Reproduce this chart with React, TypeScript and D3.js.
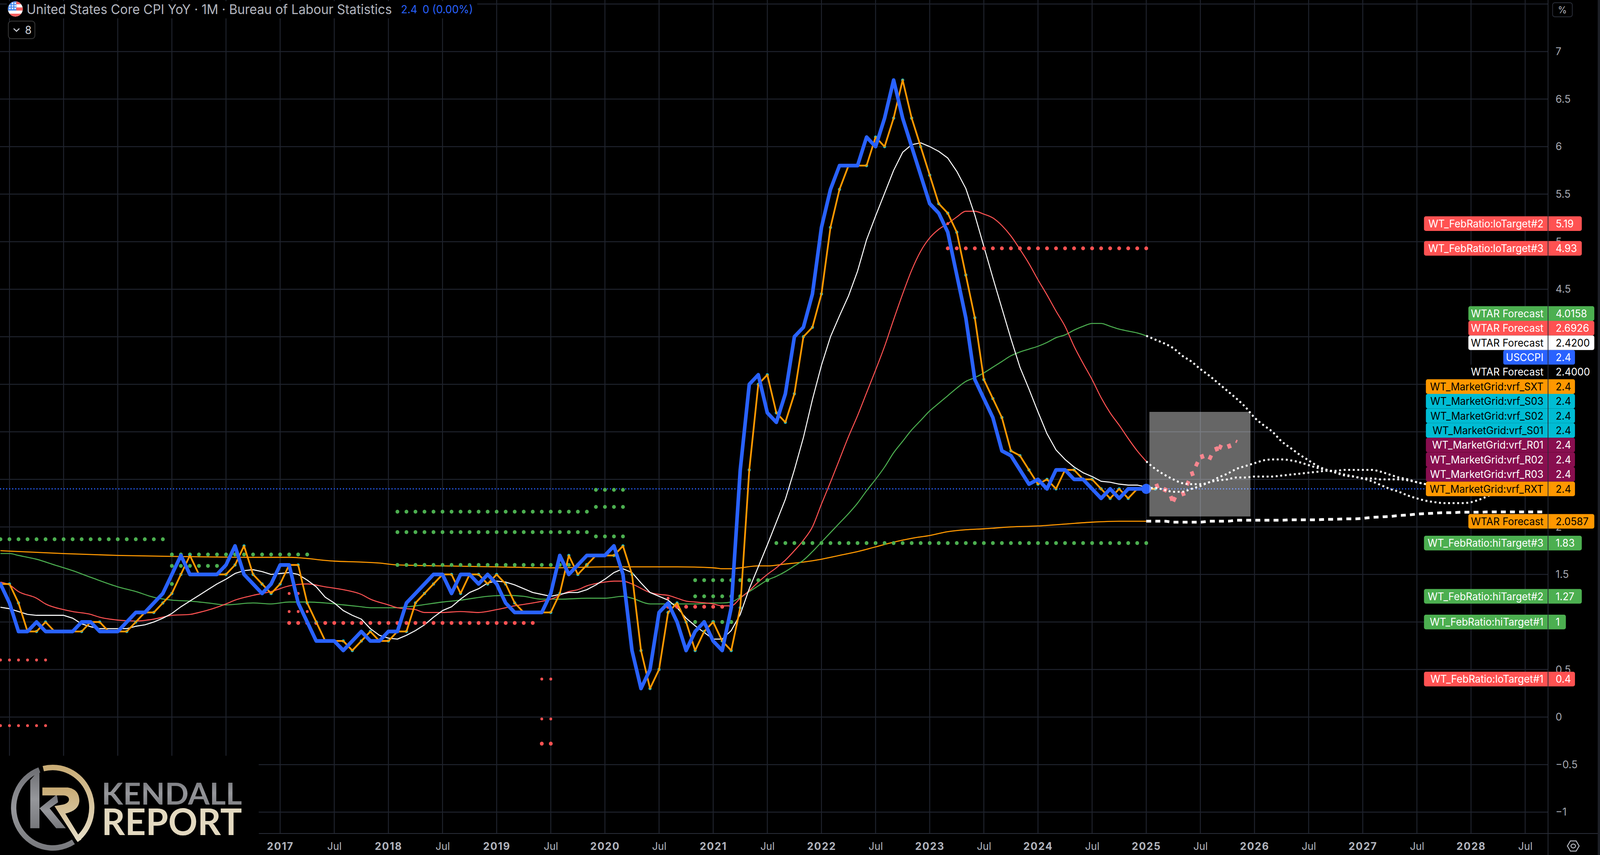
import React, { useEffect, useRef } from 'react';
import * as d3 from 'd3';

// months are counted from Jan 2017 (0) so the axis stays evenly spaced per bar
const cpiStartMonth = -32;
const coreCpi = [
  1.4, 1.4, 1.2, 0.9, 0.9, 1.0, 0.9, 0.9, 0.9, 0.9, 1.0, 1.0, 0.9, 0.9, 0.9, 1.0, 1.1, 1.1, 1.2, 1.3, 1.5, 1.7, 1.5, 1.5,
  1.5, 1.5, 1.6, 1.8, 1.5, 1.4, 1.3, 1.4, 1.6, 1.6, 1.2, 1.0, 0.8, 0.8, 0.8, 0.7, 0.8, 0.9, 0.8, 0.8, 0.9, 0.9, 1.2, 1.3,
  1.4, 1.5, 1.5, 1.3, 1.5, 1.5, 1.4, 1.5, 1.4, 1.2, 1.1, 1.1, 1.1, 1.1, 1.3, 1.7, 1.5, 1.6, 1.7, 1.7, 1.7, 1.8, 1.5, 0.7,
  0.3, 0.5, 1.1, 1.2, 1.0, 0.7, 0.9, 1.0, 0.8, 0.7, 1.15, 2.6, 3.5, 3.6, 3.2, 3.1, 3.4, 4.0, 4.1, 4.45, 5.15, 5.55, 5.8, 5.8,
  5.8, 6.1, 6.0, 6.3, 6.7, 6.3, 6.0, 5.7, 5.4, 5.3, 5.1, 4.65, 4.2, 3.55, 3.35, 3.15, 2.8, 2.75, 2.6, 2.45, 2.5, 2.4, 2.6, 2.6,
  2.5, 2.5, 2.4, 2.3, 2.4, 2.3, 2.4, 2.4, 2.4,
];

const whiteStartMonth = -31;
const whiteAvg = [
  1.155, 1.14, 1.11, 1.08, 1.07, 1.07, 1.07, 1.07, 1.04, 0.98, 0.95, 0.93, 0.93, 0.93, 0.93, 0.955, 0.97, 1.0, 1.04, 1.09,
  1.16, 1.22, 1.28, 1.34, 1.4, 1.45, 1.51, 1.54, 1.55, 1.53, 1.5, 1.51, 1.52, 1.5, 1.44, 1.37, 1.26, 1.2, 1.12, 1.07, 1.03,
  0.93, 0.86, 0.83, 0.82, 0.86, 0.91, 0.97, 1.05, 1.12, 1.16, 1.24, 1.31, 1.35, 1.41, 1.43, 1.42, 1.39, 1.35, 1.31, 1.29,
  1.27, 1.29, 1.31, 1.31, 1.34, 1.39, 1.45, 1.52, 1.56, 1.52, 1.41, 1.31, 1.27, 1.23, 1.15, 1.04, 0.96, 0.89, 0.82, 0.82,
  0.91, 1.08, 1.35, 1.58, 1.81, 2.05, 2.29, 2.6, 2.94, 3.34, 3.7, 4.0, 4.22, 4.43, 4.69, 5.02, 5.27, 5.51, 5.75, 5.94, 6.02,
  6.04, 6.0, 5.95, 5.88, 5.74, 5.56, 5.28, 4.95, 4.62, 4.3, 3.98, 3.68, 3.45, 3.21, 2.98, 2.81, 2.71, 2.63, 2.57, 2.53, 2.48,
  2.47, 2.45, 2.44, 2.44, 2.42,
];

const redMonths = [
  -31, -30, -29, -27, -26, -24, -23, -21, -20, -18, -16, -14, -12, -10, -9, -6, -5, -3, -1, 1, 3, 5, 7, 9, 10, 12, 13, 15, 16,
  18, 20, 22, 24, 26, 28, 30, 32, 33, 34, 36, 37, 38, 39, 41, 42, 43, 44, 45, 46, 48, 49, 50, 51, 52, 53, 54, 55, 56, 57, 58,
  59, 60, 61, 62, 63, 64, 65, 66, 67, 68, 69, 70, 71, 72, 73, 74, 75, 76, 77, 78, 79, 80, 81, 82, 83, 84, 85, 86, 87, 88, 89,
  90, 91, 92, 93, 94, 95, 96,
];
const redAvg = [
  1.42, 1.39, 1.32, 1.25, 1.19, 1.13, 1.11, 1.08, 1.05, 1.02, 1.01, 1.03, 1.07, 1.08, 1.1, 1.19, 1.23, 1.28, 1.32, 1.38, 1.4,
  1.37, 1.34, 1.29, 1.24, 1.18, 1.15, 1.13, 1.1, 1.1, 1.11, 1.1, 1.13, 1.17, 1.2, 1.24, 1.32, 1.34, 1.38, 1.42, 1.43, 1.43,
  1.4, 1.31, 1.29, 1.28, 1.25, 1.22, 1.21, 1.19, 1.17, 1.17, 1.25, 1.33, 1.42, 1.5, 1.57, 1.65, 1.75, 1.86, 2.0, 2.24, 2.47,
  2.71, 2.95, 3.17, 3.41, 3.65, 3.9, 4.18, 4.45, 4.7, 4.9, 5.04, 5.13, 5.19, 5.26, 5.32, 5.32, 5.29, 5.25, 5.17, 5.06, 4.92,
  4.77, 4.6, 4.44, 4.27, 4.11, 3.9, 3.72, 3.55, 3.36, 3.2, 3.07, 2.93, 2.8, 2.69,
];

const greenMonths = [
  -31, -30, -29, -27, -25, -23, -21, -18, -16, -14, -12, -10, -8, -6, -3, -1, 1, 3, 5, 7, 9, 10, 13, 15, 18, 20, 23, 25, 27, 29,
  31, 34, 36, 38, 39, 41, 43, 46, 48, 49, 50, 51, 52, 53, 54, 55, 56, 57, 58, 59, 60, 61, 62, 63, 64, 65, 66, 67, 68, 69, 70,
  71, 72, 73, 74, 75, 76, 77, 78, 79, 80, 81, 82, 83, 84, 85, 86, 87, 88, 89, 90, 91, 92, 93, 94, 95, 96,
];
const greenAvg = [
  1.72, 1.72, 1.7, 1.66, 1.6, 1.54, 1.47, 1.37, 1.32, 1.26, 1.23, 1.22, 1.2, 1.18, 1.2, 1.19, 1.21, 1.21, 1.2, 1.18, 1.16, 1.15,
  1.15, 1.17, 1.21, 1.23, 1.27, 1.28, 1.27, 1.24, 1.24, 1.25, 1.25, 1.27, 1.25, 1.19, 1.19, 1.19, 1.2, 1.2, 1.21, 1.26, 1.32,
  1.38, 1.44, 1.48, 1.53, 1.59, 1.65, 1.74, 1.84, 1.94, 2.04, 2.14, 2.25, 2.38, 2.5, 2.63, 2.78, 2.9, 3.02, 3.12, 3.22, 3.3,
  3.38, 3.46, 3.53, 3.57, 3.62, 3.68, 3.74, 3.8, 3.84, 3.87, 3.9, 3.94, 3.99, 4.02, 4.07, 4.11, 4.14, 4.14, 4.11, 4.08, 4.06,
  4.04, 4.01,
];

const orangeMonths = [
  -31, -24, -18, -12, -3, 1, 6, 9, 11, 13, 18, 24, 30, 36, 38, 41, 44, 48, 49, 50, 51, 53, 54, 56, 58, 60, 62, 64, 66, 68, 70, 72,
  74, 76, 78, 81, 84, 87, 90, 93, 96,
];
const orangeAvg = [
  1.75, 1.72, 1.7, 1.69, 1.68, 1.68, 1.64, 1.63, 1.62, 1.6, 1.59, 1.58, 1.57, 1.58, 1.58, 1.58, 1.58, 1.57, 1.56, 1.56, 1.57,
  1.59, 1.59, 1.61, 1.63, 1.66, 1.7, 1.74, 1.79, 1.84, 1.88, 1.91, 1.95, 1.97, 1.98, 2.0, 2.01, 2.03, 2.05, 2.06, 2.06,
];

// forecasts, monthly from the last print
const forecastStart = 96;
const forecastGreen = [
  4.01, 3.97, 3.93, 3.88, 3.8, 3.74, 3.66, 3.59, 3.51, 3.43, 3.35, 3.26, 3.15, 3.07, 3.0, 2.9, 2.83, 2.76, 2.7, 2.64, 2.6,
  2.575, 2.55, 2.53, 2.51, 2.48, 2.44, 2.4, 2.37, 2.33, 2.3, 2.275, 2.26, 2.25, 2.25, 2.25, 2.26, 2.29, 2.33, 2.38, 2.42,
];
const forecastRed = [
  2.69, 2.61, 2.55, 2.5, 2.46, 2.45, 2.45, 2.47, 2.52, 2.56, 2.61, 2.64, 2.67, 2.7, 2.71, 2.71, 2.7, 2.68, 2.65, 2.62, 2.6,
  2.57, 2.54, 2.53, 2.51, 2.51, 2.5, 2.5, 2.5, 2.49, 2.47, 2.45, 2.44, 2.43, 2.42,
];
const forecastWhite = [
  2.41, 2.41, 2.39, 2.37, 2.37, 2.4, 2.43, 2.47, 2.49, 2.5, 2.52, 2.52, 2.53, 2.53, 2.53, 2.54, 2.55, 2.56, 2.57, 2.58, 2.59,
  2.59, 2.6, 2.6, 2.6, 2.6, 2.58, 2.55, 2.52, 2.5, 2.47, 2.45, 2.44, 2.43, 2.42,
];
const forecastOrange = [
  2.06, 2.06, 2.06, 2.05, 2.05, 2.05, 2.05, 2.06, 2.06, 2.06, 2.07, 2.07, 2.07, 2.07, 2.07, 2.07, 2.075, 2.075, 2.075, 2.075,
  2.08, 2.08, 2.085, 2.085, 2.09, 2.1, 2.105, 2.11, 2.12, 2.125, 2.135, 2.14, 2.145, 2.15, 2.15, 2.155, 2.155, 2.155, 2.158,
  2.158, 2.158, 2.158, 2.158, 2.158, 2.158,
];

const pinkMonths = [97.2, 98.1, 98.8, 99.1, 100.1, 100.6, 101.1, 101.6, 102.2, 103.1, 103.8, 104.2, 105.2, 106];
const pinkValues = [2.43, 2.39, 2.3, 2.29, 2.35, 2.46, 2.56, 2.66, 2.74, 2.73, 2.82, 2.84, 2.85, 2.9];

// [level, first month, last month]
const greenTargets = [
  [1.87, -31, -13], [1.71, -12, 3], [1.59, -12, -7], [1.4, -12, -12], [2.16, 13, 34], [1.945, 13, 34], [1.6, 13, 34],
  [2.39, 35, 38], [2.21, 35, 38], [1.9, 35, 38], [1.44, 46, 54], [1.27, 46, 51], [1.0, 46, 50], [1.83, 55, 96],
];
const redTargets = [[0.99, 1, 28], [1.16, 43, 50], [-0.28, 29, 30], [4.93, 74, 96]];
const smallRedTargets = [
  [0.6, -31, -26], [-0.09, -31, -26], [1.3, 1, 2], [1.11, 1, 3], [0.4, 29, 30], [-0.02, 29, 30], [1.25, 43, 43], [5.19, 74, 74],
];

const priceTicks = [-1, -0.5, 0, 0.5, 1, 1.5, 2, 2.5, 3, 3.5, 4, 4.5, 5, 5.5, 6, 6.5, 7, 7.5];
// the other tick labels sit fully behind the price tags in the original
const priceLabels = [-1, -0.5, 0, 0.5, 1.5, 2, 4.5, 5, 5.5, 6, 6.5, 7];
const gridMonths = d3.range(-30, 139, 6);
const labelMonths = d3.range(0, 139, 6);

const stackNames = [
  'WTAR Forecast', 'WTAR Forecast', 'WTAR Forecast', 'USCCPI', 'WTAR Forecast', 'WT_MarketGrid:vrf_SXT', 'WT_MarketGrid:vrf_S03',
  'WT_MarketGrid:vrf_S02', 'WT_MarketGrid:vrf_S01', 'WT_MarketGrid:vrf_R01', 'WT_MarketGrid:vrf_R02', 'WT_MarketGrid:vrf_R03',
  'WT_MarketGrid:vrf_RXT',
];
const stackValues = ['4.0158', '2.6926', '2.4200', '2.4', '2.4000', '2.4', '2.4', '2.4', '2.4', '2.4', '2.4', '2.4', '2.4'];
const stackFills = [
  '#4caf50', '#ff5252', '#ffffff', '#2962ff', '#000000', '#ff9800', '#00bcd4', '#00bcd4', '#00bcd4', '#880e4f', '#880e4f', '#880e4f', '#ff9800',
];
const stackTexts = ['#fff', '#fff', '#000', '#fff', '#fff', '#000', '#000', '#000', '#000', '#fff', '#fff', '#fff', '#000'];

const levelNames = [
  'WT_FebRatio:loTarget#2', 'WT_FebRatio:loTarget#3', 'WTAR Forecast', 'WT_FebRatio:hiTarget#3', 'WT_FebRatio:hiTarget#2',
  'WT_FebRatio:hiTarget#1', 'WT_FebRatio:loTarget#1',
];
const levelValues = ['5.19', '4.93', '2.0587', '1.83', '1.27', '1', '0.4'];
const levelFills = ['#ff5252', '#ff5252', '#ff9800', '#4caf50', '#4caf50', '#4caf50', '#ff5252'];
const levelTexts = ['#fff', '#fff', '#000', '#fff', '#fff', '#fff', '#fff'];

const WIDTH = 4218;
const HEIGHT = 2188;
const AXIS_X = 4081;
const AXIS_Y = 2133;
const GRID = '#1f232d';
const FONT = 'Inter, sans-serif';

const x = d3.scaleLinear().domain([0, 132]).range([738.5, 3878]);
const y = d3.scaleLinear().domain([0, 7]).range([1835, 131.9]);

const seq = (start: number, values: number[]) => values.map((v, i) => [start + i, v] as [number, number]);
const zip = (months: number[], values: number[]) => months.map((m, i) => [m, values[i]] as [number, number]);

const straight = d3.line<[number, number]>().x((d) => x(d[0])).y((d) => y(d[1]));
const smooth = d3.line<[number, number]>().x((d) => x(d[0])).y((d) => y(d[1])).curve(d3.curveMonotoneX);

const cpiPoints = seq(cpiStartMonth, coreCpi);
// the orange plot is the same print shifted one bar to the right
const laggedPoints = seq(cpiStartMonth + 1, coreCpi);

const labelLeft = (name: string) => {
  if (name === 'USCCPI') return 3963;
  if (name.startsWith('WTAR')) return 3871;
  if (name.startsWith('WT_Market')) return 3759;
  return 3754;
};
const labelRight = (value: string) => {
  if (value.length >= 6) return 4203;
  if (value.length === 4) return 4170;
  if (value.length === 3) return 4152;
  return 4128;
};

const PriceLabel = ({ name, value, fill, text, cy }: { name: string; value: string; fill: string; text: string; cy: number }) => (
  <g>
    <rect x={labelLeft(name)} y={cy - 18.7} width={labelRight(value) - labelLeft(name)} height={37.4} rx={5} fill={fill} />
    <text x={4069} y={cy} dy="0.36em" textAnchor="end" fontSize={26.4} fontFamily={FONT} fill={text}>{name}</text>
    <text x={4101} y={cy} dy="0.36em" fontSize={26.4} fontFamily={FONT} fill={text}>{value}</text>
  </g>
);

const TargetDots = ({ rows, color, r }: { rows: number[][]; color: string; r: number }) => (
  <g fill={color}>
    {rows.map(([level, from, to]) =>
      d3.range(from, to + 1).map((m) => <circle key={`${level}-${m}`} cx={x(m)} cy={y(level)} r={r} />)
    )}
  </g>
);

const ringGray = d3.arc()({ innerRadius: 96, outerRadius: 110, startAngle: (-212 * Math.PI) / 180, endAngle: (-20 * Math.PI) / 180 });
const ringGold = d3.arc()({ innerRadius: 96, outerRadius: 110, startAngle: (-14 * Math.PI) / 180, endAngle: (143 * Math.PI) / 180 });

const Logo = () => (
  <g>
    <defs>
      <linearGradient id="logoGray" x1="0" y1="0" x2="0" y2="1">
        <stop offset="0" stopColor="#6d6e73" />
        <stop offset="0.5" stopColor="#96979b" />
        <stop offset="1" stopColor="#77787c" />
      </linearGradient>
      <linearGradient id="logoGold" x1="0" y1="0" x2="0" y2="1">
        <stop offset="0" stopColor="#c8ab74" />
        <stop offset="1" stopColor="#e6dec9" />
      </linearGradient>
    </defs>
    <rect x={0} y={1934} width={682} height={HEIGHT - 1934} fill="#000" />
    <g transform="translate(139,2067)">
      <path d={ringGray ?? ''} fill="url(#logoGray)" />
      <path d={ringGold ?? ''} fill="url(#logoGold)" />
    </g>
    <g transform="translate(0,1280) scale(0.638,0.579)">
      <path d="M125,1238 L163,1190 L163,1450 L125,1450 Z" fill="url(#logoGray)" />
      <path d="M163,1362 L235,1300 L240,1335 L205,1362 L272,1450 L232,1450 Z" fill="url(#logoGray)" />
      <path
        d="M175,1270 L280,1270 Q328,1278 328,1330 Q325,1372 270,1385 L336,1500 L320,1510 L225,1352 L262,1345 Q285,1338 285,1322 Q283,1306 262,1305 L175,1305 Z"
        fill="url(#logoGold)"
      />
    </g>
    <text x={268} y={2059} fontFamily="Lato, sans-serif" fontWeight={700} fontSize={76} fill="url(#logoGray)" textLength={370} lengthAdjust="spacingAndGlyphs">KENDALL</text>
    <text x={268} y={2137} fontFamily="Lato, sans-serif" fontWeight={700} fontSize={93} fill="#e3d9c0" textLength={370} lengthAdjust="spacingAndGlyphs">REPORT</text>
  </g>
);

const Flag = () => (
  <g>
    <clipPath id="flagClip"><circle cx={40.5} cy={23} r={19.6} /></clipPath>
    <g clipPath="url(#flagClip)">
      <rect x={20} y={3} width={41} height={40} fill="#fff" />
      <rect x={20} y={3} width={41} height={8} fill="#f55e5e" />
      <rect x={20} y={19} width={41} height={8} fill="#f55e5e" />
      <rect x={20} y={35} width={41} height={8} fill="#f55e5e" />
      <rect x={20} y={3} width={23} height={24} fill="#3f86ee" />
      {[[33, 8.5], [40, 8.5], [26, 15], [33, 15], [40, 15], [26, 21.5], [33, 21.5], [40, 21.5]].map(([cx, cy]) => (
        <path key={`${cx}-${cy}`} transform={`translate(${cx},${cy})`} d={d3.symbol(d3.symbolStar, 16)() ?? ''} fill="#fff" />
      ))}
    </g>
  </g>
);

export default function App() {
  const priceAxisRef = useRef<SVGGElement | null>(null);
  const timeAxisRef = useRef<SVGGElement | null>(null);

  useEffect(() => {
    if (!priceAxisRef.current || !timeAxisRef.current) return;

    const priceAxis = d3.axisRight(y).tickValues(priceLabels).tickSize(0).tickFormat(d3.format('~g') as any);
    const priceGroup = d3.select(priceAxisRef.current).call(priceAxis as any);
    priceGroup.select('.domain').remove();
    priceGroup
      .selectAll('text')
      .attr('x', 20)
      .attr('text-anchor', 'start')
      .attr('font-size', 27)
      .attr('font-family', FONT)
      .attr('fill', '#a5a8b1');

    const timeAxis = d3
      .axisBottom(x)
      .tickValues(labelMonths)
      .tickSize(0)
      .tickFormat((d) => (+d % 12 === 0 ? String(2017 + +d / 12) : 'Jul'));
    const timeGroup = d3.select(timeAxisRef.current).call(timeAxis as any);
    timeGroup.select('.domain').remove();
    timeGroup
      .selectAll('text')
      .attr('y', 32)
      .attr('dy', '0.36em')
      .attr('font-size', 27)
      .attr('font-family', FONT)
      .attr('font-weight', (d: any) => (+d % 12 === 0 ? 700 : 400))
      .attr('letter-spacing', (d: any) => (+d % 12 === 0 ? 2 : 0))
      .attr('fill', '#b2b5be');
  }, []);

  return (
    <svg
      viewBox={`0 0 ${WIDTH} ${HEIGHT}`}
      preserveAspectRatio="none"
      style={{ position: 'fixed', left: 0, top: 0, width: '100vw', height: '100vh', background: '#000' }}
    >
      <defs>
        <clipPath id="plotClip"><rect x={0} y={0} width={AXIS_X} height={AXIS_Y} /></clipPath>
      </defs>
      <rect x={0} y={0} width={WIDTH} height={HEIGHT} fill="#000" />

      <g stroke={GRID} strokeWidth={2.5}>
        {priceTicks.map((t) => <line key={t} x1={0} x2={AXIS_X} y1={y(t)} y2={y(t)} />)}
        {gridMonths.map((m) => <line key={m} x1={x(m)} x2={x(m)} y1={0} y2={AXIS_Y} />)}
      </g>

      <g clipPath="url(#plotClip)" fill="none" strokeLinejoin="round">
        <line x1={0} x2={AXIS_X} y1={y(2.4)} y2={y(2.4)} stroke="#2962ff" strokeWidth={3} strokeDasharray="3 5" />
        <path d={smooth(zip(orangeMonths, orangeAvg)) ?? ''} stroke="#ff9800" strokeWidth={2.8} />
        <path d={smooth(zip(greenMonths, greenAvg)) ?? ''} stroke="#4caf50" strokeWidth={2.6} />
        <path d={smooth(zip(redMonths, redAvg)) ?? ''} stroke="#ff5252" strokeWidth={2.6} />
        <path d={straight(seq(whiteStartMonth, whiteAvg)) ?? ''} stroke="#ffffff" strokeWidth={2.6} />

        <TargetDots rows={greenTargets} color="#4caf50" r={5} />
        <TargetDots rows={redTargets} color="#ff5252" r={5} />
        <TargetDots rows={smallRedTargets} color="#ff5252" r={3.7} />

        <g fill="#f23645">
          {pinkMonths.map((m, i) => {
            const small = i === pinkMonths.length - 1;
            return (
              <rect
                key={m}
                x={-(small ? 2 : 5)}
                y={-(small ? 4 : 6)}
                width={small ? 4 : 10}
                height={small ? 8 : 12}
                transform={`translate(${x(m)},${y(pinkValues[i])}) rotate(${i % 2 ? 25 : -20})`}
              />
            );
          })}
        </g>

        <g fill="#00bcd4">
          {laggedPoints.map((d) => <circle key={d[0]} cx={x(d[0])} cy={y(d[1])} r={4} />)}
        </g>
        <path d={straight(laggedPoints) ?? ''} stroke="#ff9800" strokeWidth={4.5} />
        <path d={straight(cpiPoints) ?? ''} stroke="#2962ff" strokeWidth={9.5} />

        <g stroke="#ffffff">
          <path d={smooth(seq(forecastStart, forecastGreen)) ?? ''} strokeWidth={5} strokeDasharray="5 7" />
          <path d={smooth(seq(forecastStart, forecastRed)) ?? ''} strokeWidth={5} strokeDasharray="5 7" />
          <path d={smooth(seq(forecastStart, forecastWhite)) ?? ''} strokeWidth={5} strokeDasharray="5 7" />
          <path d={smooth(seq(forecastStart, forecastOrange)) ?? ''} strokeWidth={7} strokeDasharray="13 11" />
        </g>
        <circle cx={x(96)} cy={y(2.4)} r={13} fill="#2962ff" />

        <rect
          x={x(96.35)}
          y={y(3.21)}
          width={x(107.55) - x(96.35)}
          height={y(2.11) - y(3.21)}
          fill="#ffffff"
          fillOpacity={0.4}
        />
      </g>

      {/* time axis panel */}
      <rect x={0} y={AXIS_Y} width={WIDTH} height={HEIGHT - AXIS_Y} fill="#000" />
      <line x1={682} x2={WIDTH} y1={AXIS_Y} y2={AXIS_Y} stroke="#2a2e39" strokeWidth={2} />
      <g ref={timeAxisRef} transform={`translate(0,${AXIS_Y})`} />

      <g ref={priceAxisRef} transform={`translate(${AXIS_X},0)`} />

      {levelNames.map((name, i) => (
        <PriceLabel key={name + i} name={name} value={levelValues[i]} fill={levelFills[i]} text={levelTexts[i]} cy={y(parseFloat(levelValues[i]))} />
      ))}
      {stackNames.map((name, i) => (
        <PriceLabel
          key={name + i}
          name={name}
          value={stackValues[i]}
          fill={stackFills[i]}
          text={stackTexts[i]}
          cy={y(2.4) - (stackNames.length - 1 - i) * 37.4}
        />
      ))}

      <line x1={AXIS_X} x2={AXIS_X} y1={0} y2={HEIGHT} stroke="#2a2e39" strokeWidth={2} />
      <rect x={4212} y={0} width={6} height={HEIGHT} fill="#1c1f26" />

      <rect x={4093} y={7} width={52} height={36} rx={6} fill="#000" stroke="#2a2e39" strokeWidth={2} />
      <text x={4107} y={25} dy="0.36em" fontSize={24} fontFamily={FONT} fill="#b2b5be">%</text>

      <path d="M4132,2165 L4140,2152 L4155,2152 L4163,2165 L4155,2178 L4140,2178 Z" fill="none" stroke="#b2b5be" strokeWidth={2.5} />
      <ellipse cx={4147.5} cy={2165} rx={6} ry={5} fill="none" stroke="#b2b5be" strokeWidth={2.5} />

      <Logo />

      {/* legend */}
      <rect x={18} y={3} width={1240} height={44} fill="#000" />
      <Flag />
      <text x={70} y={24} dy="0.36em" fontSize={33.6} fontFamily={FONT} fill="#b2b5be">
        United States Core CPI YoY · 1M · Bureau of Labour Statistics
      </text>
      <text x={1057} y={24} dy="0.36em" fontSize={28} fontFamily={FONT} fill="#2962ff">2.4</text>
      <text x={1114} y={24} dy="0.36em" fontSize={28} fontFamily={FONT} fill="#2962ff">0 (0.00%)</text>
      <rect x={22} y={54} width={70} height={45} rx={8} fill="#000" stroke="#3a3a3a" strokeWidth={2} />
      <path d="M36,73 L43.5,80 L51,73" fill="none" stroke="#d1d4dc" strokeWidth={2.5} />
      <text x={66} y={77} dy="0.36em" fontSize={28} fontFamily={FONT} fill="#d1d4dc">8</text>
    </svg>
  );
}
